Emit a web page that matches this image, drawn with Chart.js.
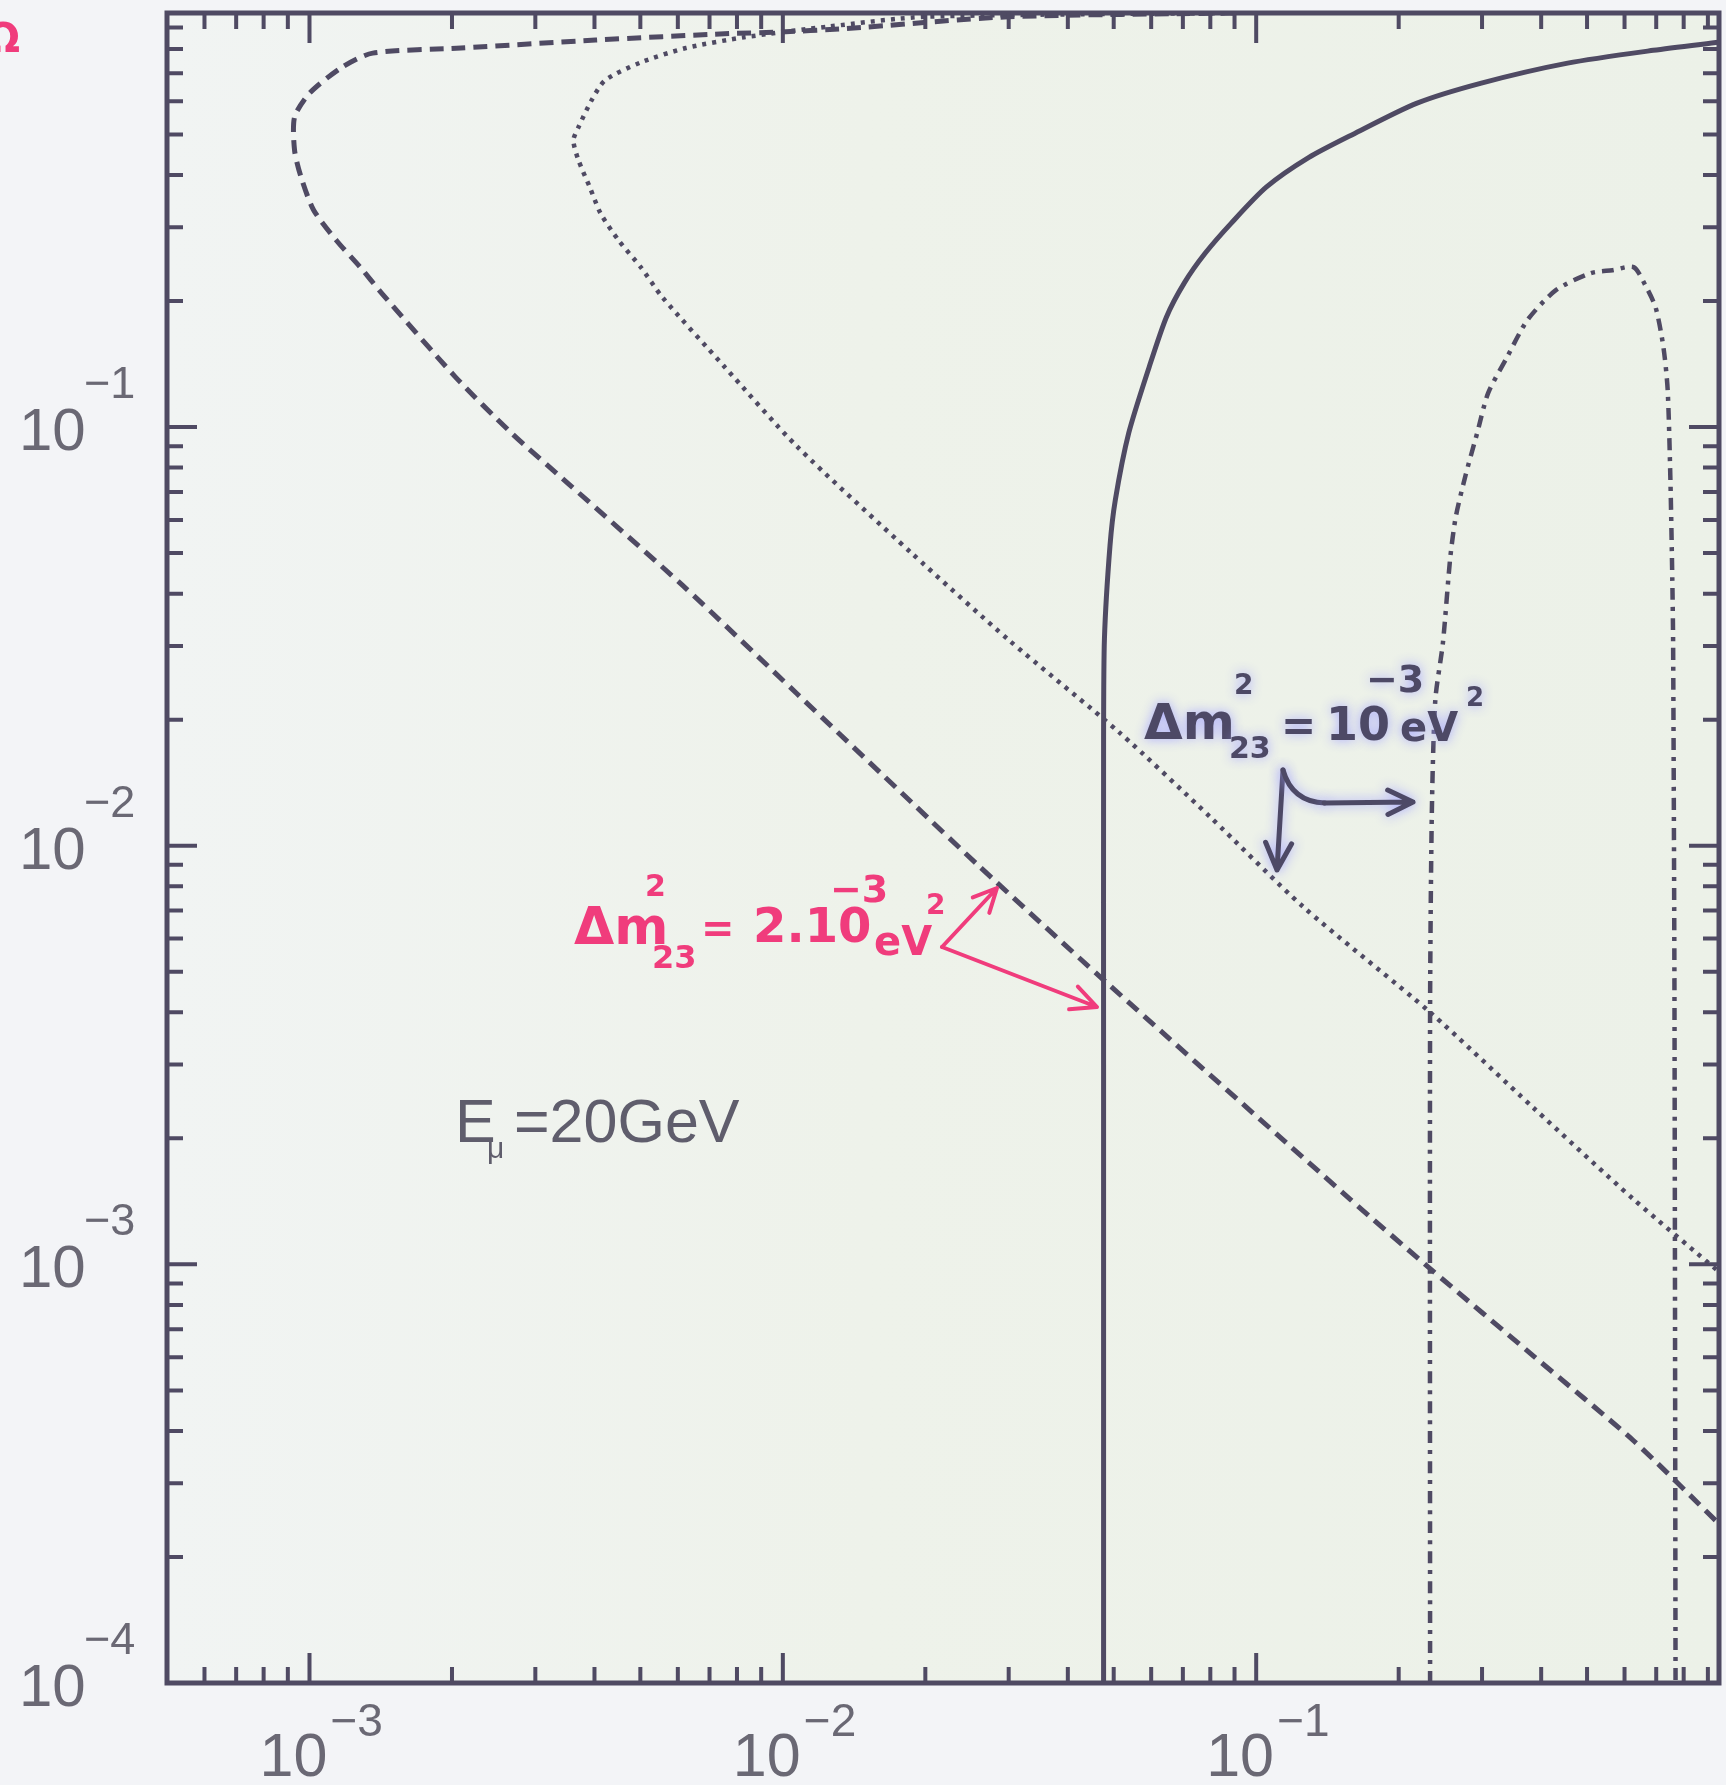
<!DOCTYPE html>
<html>
<head>
<meta charset="utf-8">
<script src="https://cdn.jsdelivr.net/npm/chart.js@4/dist/chart.umd.min.js"></script>
<style>
html, body { margin: 0; padding: 0; background: #f3f4f7; }
</style>
</head>
<body>
<canvas id="chart" width="1726" height="1785"></canvas>
<script>
// axis ranges (log-log)
const xRange = [5e-4, 0.95];
const yRange = [1e-4, 0.975];
const xLabelDecades = [1e-3, 1e-2, 1e-1];
const xLabelPowers = ['\u22123', '\u22122', '\u22121'];
const yLabelDecades = [1e-1, 1e-2, 1e-3, 1e-4];
const yLabelPowers = ['\u22121', '\u22122', '\u22123', '\u22124'];

// dashed contour
const dashedX = [0.09, 0.030, 0.0136, 0.0096, 0.0077, 0.00402, 0.00209, 0.00136, 0.00117, 0.00100, 0.00093, 0.00093,
  0.00096, 0.00102, 0.00114, 0.00128, 0.00142, 0.00203, 0.00267, 0.00353, 0.00615, 0.0107, 0.0187, 0.0258,
  0.0475, 0.158, 0.233, 0.386, 0.627, 0.95];
const dashedY = [0.975, 0.955, 0.895, 0.877, 0.871, 0.840, 0.804, 0.782, 0.723, 0.627, 0.550, 0.458,
  0.395, 0.330, 0.279, 0.241, 0.209, 0.132, 0.0968, 0.0731, 0.0418, 0.0231, 0.0127, 0.0090,
  0.00479, 0.00143, 0.000977, 0.000603, 0.000379, 0.000240];

// dotted contour
const dottedX = [0.09, 0.020, 0.0125, 0.00828, 0.00624, 0.00501, 0.00421, 0.00394, 0.00370, 0.00361, 0.00370,
  0.00391, 0.00412, 0.00450, 0.00501, 0.00557, 0.0075, 0.0107, 0.0187, 0.0300, 0.0515, 0.0800, 0.1256,
  0.233, 0.386, 0.627, 0.95];
const dottedY = [0.975, 0.955, 0.905, 0.853, 0.804, 0.743, 0.673, 0.602, 0.520, 0.484, 0.434,
  0.374, 0.324, 0.279, 0.241, 0.204, 0.140, 0.090, 0.050, 0.031, 0.0186, 0.0117, 0.00715,
  0.0040, 0.00236, 0.00143, 0.00096];

// solid contour
const solidX = [0.0476, 0.0476, 0.0476, 0.0478, 0.0491, 0.0504, 0.0538, 0.0594, 0.0646, 0.0705, 0.0780,
  0.0886, 0.105, 0.129, 0.160, 0.218, 0.299, 0.455, 0.690, 0.95];
const solidY = [0.0001, 0.003, 0.0179, 0.0313, 0.052, 0.067, 0.0968, 0.139, 0.183, 0.221, 0.260,
  0.307, 0.374, 0.440, 0.500, 0.593, 0.663, 0.740, 0.794, 0.83];

// dash-dot contour
const dashDotX = [0.233, 0.233, 0.235, 0.239, 0.248, 0.257, 0.264, 0.277, 0.293, 0.309, 0.339, 0.374,
  0.429, 0.508, 0.566, 0.627, 0.664, 0.698, 0.725, 0.740, 0.750, 0.757, 0.760, 0.765, 0.769];
const dashDotY = [0.0001, 0.004, 0.012, 0.0223, 0.0305, 0.0487, 0.061, 0.0768, 0.0968, 0.1205, 0.147, 0.180,
  0.212, 0.233, 0.237, 0.241, 0.218, 0.193, 0.155, 0.123, 0.0748, 0.0432, 0.0305, 0.0043, 0.0001];

const INK = '#4f4a63';
const PINK = '#f03c7c';

function toPoints(xs, ys)
{
	return xs.map((x, i) => ({ x: x, y: ys[i] }));
}

function logTicks(min, max)
{
	const out = [];
	for (let e = Math.floor(Math.log10(min)); e <= Math.ceil(Math.log10(max)); e++)
		for (let m = 1; m <= 9; m++)
		{
			const v = m * Math.pow(10, e);
			if (v >= min * 0.999 && v <= max * 1.001)
				out.push({ v: v, major: m === 1 });
		}
	return out;
}

function arrow(ctx, x1, y1, x2, y2, headLen)
{
	const a = Math.atan2(y2 - y1, x2 - x1);
	ctx.beginPath();
	ctx.moveTo(x1, y1);
	ctx.lineTo(x2, y2);
	ctx.moveTo(x2 - headLen * Math.cos(a - 0.45), y2 - headLen * Math.sin(a - 0.45));
	ctx.lineTo(x2, y2);
	ctx.lineTo(x2 - headLen * Math.cos(a + 0.45), y2 - headLen * Math.sin(a + 0.45));
	ctx.stroke();
}

function txt(ctx, s, x, y, font)
{
	ctx.font = font;
	ctx.fillText(s, x, y);
}

const paperPlugin = {
	id: 'paper',
	beforeDraw(chart)
	{
		const { ctx, chartArea: a } = chart;
		ctx.save();
		ctx.fillStyle = '#f3f4f7';
		ctx.fillRect(0, 0, chart.width, chart.height);
		const g = ctx.createLinearGradient(a.left, 0, a.right, 0);
		g.addColorStop(0, '#f1f4f3');
		g.addColorStop(0.45, '#eef2ea');
		g.addColorStop(1, '#ecf1e8');
		ctx.fillStyle = g;
		ctx.fillRect(a.left, a.top, a.right - a.left, a.bottom - a.top);
		ctx.restore();
	},
	afterDatasetsDraw(chart)
	{
		const { ctx, chartArea: a } = chart;
		const xs = chart.scales.x, ys = chart.scales.y;
		ctx.save();

		// frame
		ctx.strokeStyle = INK;
		ctx.lineWidth = 5;
		ctx.strokeRect(a.left, a.top, a.right - a.left, a.bottom - a.top);

		// inward ticks on all four sides
		ctx.lineWidth = 4;
		ctx.beginPath();
		logTicks(xRange[0], xRange[1]).forEach(t =>
		{
			const px = xs.getPixelForValue(t.v);
			const len = t.major ? 30 : 16;
			ctx.moveTo(px, a.bottom); ctx.lineTo(px, a.bottom - len);
			ctx.moveTo(px, a.top); ctx.lineTo(px, a.top + len);
		});
		logTicks(yRange[0], yRange[1]).forEach(t =>
		{
			const py = ys.getPixelForValue(t.v);
			const len = t.major ? 30 : 16;
			ctx.moveTo(a.left, py); ctx.lineTo(a.left + len, py);
			ctx.moveTo(a.right, py); ctx.lineTo(a.right - len, py);
		});
		ctx.stroke();

		// tick labels
		ctx.fillStyle = '#6a6874';
		ctx.textAlign = 'left';
		ctx.textBaseline = 'alphabetic';
		xLabelDecades.forEach((v, i) =>
		{
			const px = xs.getPixelForValue(v);
			txt(ctx, '10', px - 50, a.bottom + 93, '61px "Liberation Sans"');
			txt(ctx, xLabelPowers[i], px + 21, a.bottom + 53, '46px "Liberation Sans"');
		});
		yLabelDecades.forEach((v, i) =>
		{
			const py = ys.getPixelForValue(v);
			txt(ctx, '10', 19, py + 23, '60px "Liberation Sans"');
			txt(ctx, yLabelPowers[i], 84, py - 29, '45px "Liberation Sans"');
		});

		// E_mu label
		ctx.fillStyle = '#5f5d6c';
		txt(ctx, 'E', 455, 1142, '61px "Liberation Sans"');
		txt(ctx, '\u03bc', 487, 1158, '30px "Liberation Sans"');
		txt(ctx, '=20GeV', 514, 1142, '61px "Liberation Sans"');

		// handwritten blue note
		ctx.fillStyle = '#4d4966';
		ctx.strokeStyle = '#4d4966';
		ctx.shadowColor = 'rgba(160,160,255,0.9)';
		ctx.shadowBlur = 12;
		txt(ctx, '\u0394m', 1144, 739, 'bold 50px "DejaVu Sans"');
		txt(ctx, '2', 1234, 694, 'bold 28px "DejaVu Sans"');
		txt(ctx, '23', 1229, 758, 'bold 30px "DejaVu Sans"');
		txt(ctx, '=', 1281, 740, 'bold 42px "DejaVu Sans"');
		txt(ctx, '10', 1326, 740, 'bold 46px "DejaVu Sans"');
		txt(ctx, '\u22123', 1366, 692, 'bold 38px "DejaVu Sans"');
		txt(ctx, 'eV', 1400, 741, 'bold 40px "DejaVu Sans"');
		txt(ctx, '2', 1466, 706, 'bold 26px "DejaVu Sans"');
		ctx.lineWidth = 5;
		ctx.lineCap = 'round';
		ctx.lineJoin = 'round';
		arrow(ctx, 1283, 770, 1277, 870, 30);
		ctx.beginPath();
		ctx.moveTo(1283, 770);
		ctx.quadraticCurveTo(1292, 802, 1325, 803);
		ctx.stroke();
		arrow(ctx, 1324, 803, 1413, 802, 28);

		// handwritten pink note
		ctx.shadowBlur = 0;
		ctx.fillStyle = PINK;
		ctx.strokeStyle = PINK;
		txt(ctx, '\u0394m', 574, 944, 'bold 52px "DejaVu Sans"');
		txt(ctx, '2', 645, 896, 'bold 30px "DejaVu Sans"');
		txt(ctx, '23', 652, 968, 'bold 32px "DejaVu Sans"');
		txt(ctx, '=', 701, 942, 'bold 40px "DejaVu Sans"');
		txt(ctx, '2.10', 753, 942, 'bold 48px "DejaVu Sans"');
		txt(ctx, '\u22123', 830, 902, 'bold 38px "DejaVu Sans"');
		txt(ctx, 'eV', 874, 955, 'bold 40px "DejaVu Sans"');
		txt(ctx, '2', 926, 914, 'bold 28px "DejaVu Sans"');
		ctx.lineWidth = 4;
		arrow(ctx, 942, 947, 997, 888, 26);
		arrow(ctx, 942, 947, 1097, 1007, 28);

		// clipped pink axis title remnant at the very left
		txt(ctx, '\u03a9', -14, 52, 'bold 40px "DejaVu Sans"');

		ctx.restore();
	}
};

const common = { showLine: true, pointRadius: 0, borderColor: INK, borderWidth: 4.5, tension: 0.25, fill: false };

new Chart(document.getElementById('chart'), {
	type: 'scatter',
	data: {
		datasets: [
			Object.assign({}, common, { label: 'dashed', data: toPoints(dashedX, dashedY), borderDash: [14, 8], borderWidth: 5 }),
			Object.assign({}, common, { label: 'dotted', data: toPoints(dottedX, dottedY), borderDash: [4, 6] }),
			Object.assign({}, common, { label: 'solid', data: toPoints(solidX, solidY), borderWidth: 5 }),
			Object.assign({}, common, { label: 'dashdot', data: toPoints(dashDotX, dashDotY), borderDash: [12, 7, 4, 7] })
		]
	},
	options: {
		responsive: false,
		devicePixelRatio: 1,
		animation: false,
		layout: { padding: { left: 167, right: 7, top: 13, bottom: 102 } },
		plugins: { legend: { display: false }, tooltip: { enabled: false } },
		scales: {
			x: { type: 'logarithmic', min: xRange[0], max: xRange[1], display: false },
			y: { type: 'logarithmic', min: yRange[0], max: yRange[1], display: false }
		}
	},
	plugins: [paperPlugin]
});
</script>
</body>
</html>
